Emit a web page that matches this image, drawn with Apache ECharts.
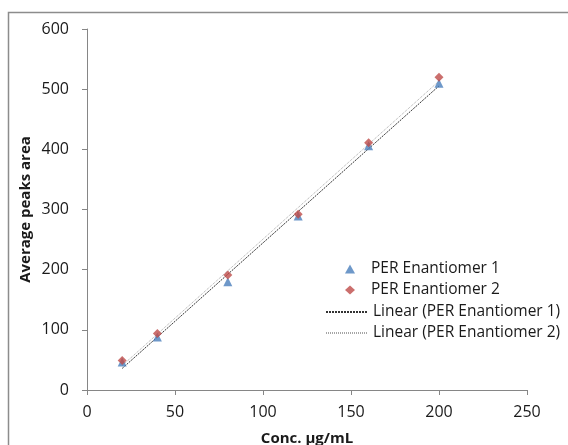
<!DOCTYPE html>
<html>
<head>
<meta charset="utf-8">
<script src="https://cdn.jsdelivr.net/npm/echarts@6/dist/echarts.min.js"></script>
<style>
html,body{margin:0;padding:0;background:#fff;}
#chart{width:568px;height:445px;}
</style>
</head>
<body>
<div id="chart"></div>
<script>
var conc = [20, 40, 80, 120, 160, 200]
var enant1 = [46.5, 88, 180, 289, 406, 510]
var enant2 = [49, 94, 191, 292, 411, 520]
var xTicks = [0, 50, 100, 150, 200, 250]
var yTicks = [0, 100, 200, 300, 400, 500, 600]

var font = "'Open Sans', Lato, sans-serif"

// least squares fit, drawn from first to last x like excel does
function linFit(xs, ys){
    var n = xs.length, sx = 0, sy = 0, sxx = 0, sxy = 0
    for (var i = 0; i < n; i++){
        sx += xs[i]; sy += ys[i]; sxx += xs[i]*xs[i]; sxy += xs[i]*ys[i]
    }
    var b = (n*sxy - sx*sy) / (n*sxx - sx*sx)
    var a = (sy - b*sx) / n
    var x0 = xs[0], x1 = xs[n-1]
    return [[x0, a + b*x0], [x1, a + b*x1]]
}
function pairs(xs, ys){
    return xs.map(function(x, i){ return [x, ys[i]] })
}

var chart = echarts.init(document.getElementById('chart'))
var option = {
    animation: false,
    textStyle: { fontFamily: font },
    graphic: [{
        type: 'rect',
        shape: { x: 8.5, y: 12.5, width: 620, height: 500 },
        style: { fill: 'none', stroke: '#8c8c8c', lineWidth: 1.5 },
        silent: true
    }],
    grid: { left: 87, right: 41, top: 29, bottom: 55, outerBoundsMode: 'none', containLabel: false },
    legend: [{
        orient: 'vertical',
        left: 340,
        top: 256,
        itemWidth: 10,
        itemHeight: 9,
        itemGap: 5,
        textStyle: { fontFamily: font, fontSize: 15.5, color: '#1a1a1a', lineHeight: 14, padding: [0, 0, 0, 11] },
        data: ['PER Enantiomer 1', 'PER Enantiomer 2']
    }, {
        orient: 'vertical',
        left: 320,
        top: 299,
        itemWidth: 42,
        itemHeight: 9,
        itemGap: 5,
        textStyle: { fontFamily: font, fontSize: 15.5, color: '#1a1a1a', lineHeight: 14 },
        data: ['Linear (PER Enantiomer 1)', 'Linear (PER Enantiomer 2)']
    }],
    xAxis: {
        type: 'value',
        min: xTicks[0],
        max: xTicks[xTicks.length-1],
        interval: 50,
        name: 'Conc. µg/mL',
        nameLocation: 'middle',
        nameGap: 41,
        nameMoveOverlap: false,
        nameTextStyle: { fontFamily: font, fontSize: 15, fontWeight: 'bold', color: '#1a1a1a' },
        axisLine: { lineStyle: { color: '#868686' } },
        axisTick: { show: true, length: 5, lineStyle: { color: '#868686' } },
        axisLabel: { fontSize: 16, color: '#1a1a1a', margin: 14 },
        splitLine: { show: false }
    },
    yAxis: {
        type: 'value',
        min: yTicks[0],
        max: yTicks[yTicks.length-1],
        interval: 100,
        name: 'Average peaks area',
        nameLocation: 'middle',
        nameGap: 54,
        nameMoveOverlap: false,
        nameTextStyle: { fontFamily: font, fontSize: 15, fontWeight: 'bold', color: '#1a1a1a' },
        axisLine: { show: true, lineStyle: { color: '#868686' } },
        axisTick: { show: true, length: 5, lineStyle: { color: '#868686' } },
        axisLabel: { fontSize: 16, color: '#1a1a1a', margin: 18 },
        splitLine: { show: false }
    },
    series: [
        {
            name: 'Linear (PER Enantiomer 1)',
            type: 'line',
            data: linFit(conc, enant1),
            showSymbol: false,
            symbol: 'none',
            lineStyle: { color: '#333', width: 1, type: [2, 1] },
            itemStyle: { color: 'rgba(0,0,0,0)' },
            z: 2
        },
        {
            name: 'Linear (PER Enantiomer 2)',
            type: 'line',
            data: linFit(conc, enant2),
            showSymbol: false,
            symbol: 'none',
            lineStyle: { color: '#a6a6a6', width: 1, type: [1, 1] },
            itemStyle: { color: 'rgba(0,0,0,0)' },
            z: 2
        },
        {
            name: 'PER Enantiomer 1',
            type: 'scatter',
            data: pairs(conc, enant1),
            symbol: 'triangle',
            symbolSize: 9,
            itemStyle: { color: '#4a7ebb' },
            z: 3
        },
        {
            name: 'PER Enantiomer 2',
            type: 'scatter',
            data: pairs(conc, enant2),
            symbol: 'diamond',
            symbolSize: 9,
            itemStyle: { color: '#be4b48' },
            z: 4
        }
    ]
}
chart.setOption(option)
</script>
</body>
</html>
